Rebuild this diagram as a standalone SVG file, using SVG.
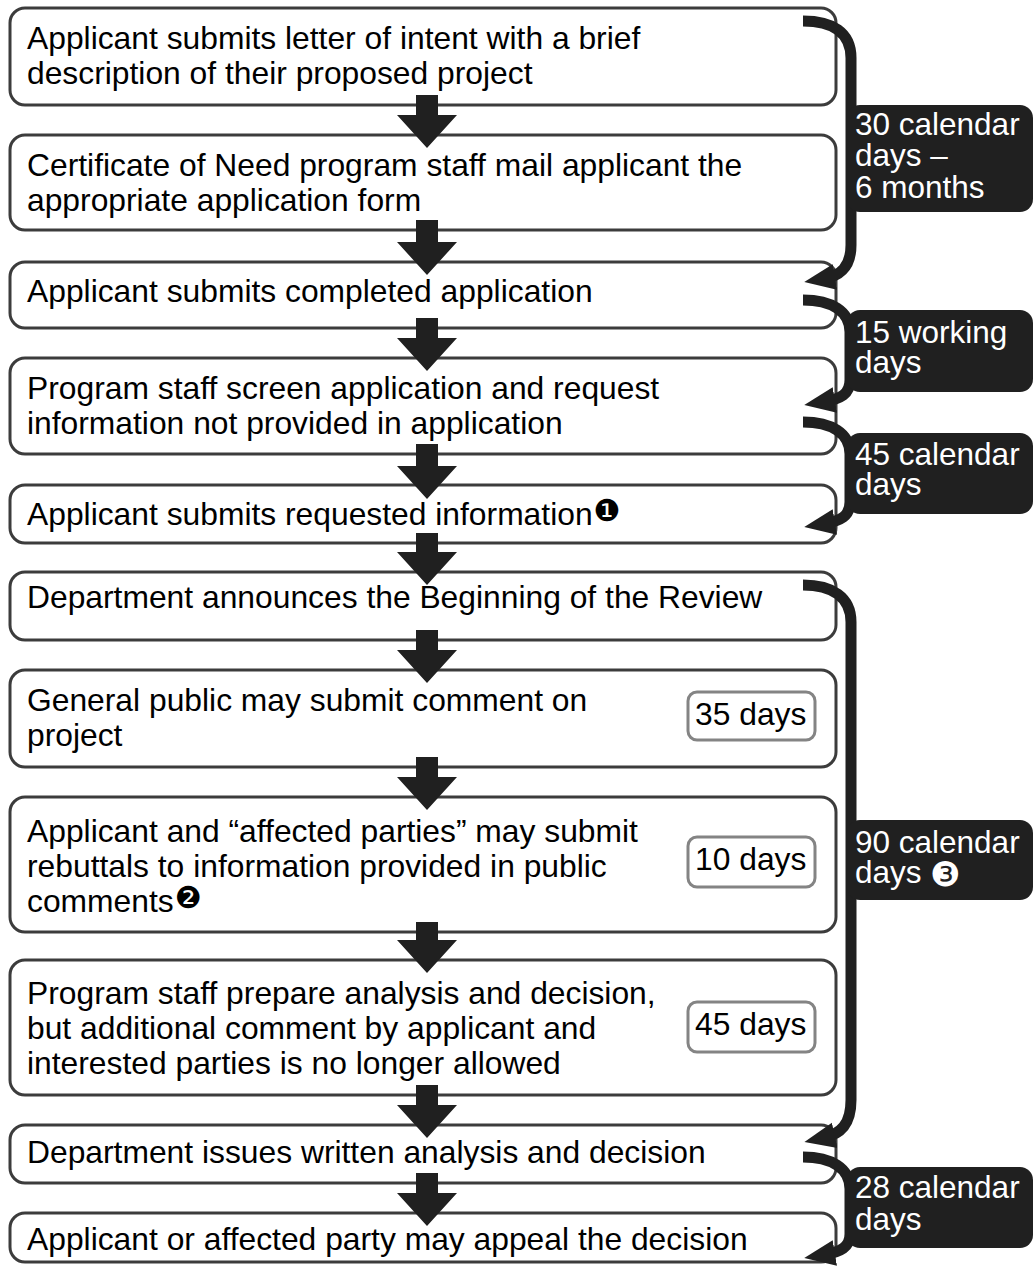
<svg xmlns="http://www.w3.org/2000/svg" width="1035" height="1268" viewBox="0 0 1035 1268">
<defs>
<style>
.box{fill:#fff;stroke:#3c3c3c;stroke-width:3}
.dbox{fill:#fff;stroke:#848484;stroke-width:3}
.badge{fill:#202020}
.t{font-family:"Liberation Sans",Arial,sans-serif;font-size:31.8px;fill:#000}
.bt{font-family:"Liberation Sans",Arial,sans-serif;font-size:31.5px;fill:#fff}
.fn{font-family:"DejaVu Sans",sans-serif;font-size:30px}
.arr{fill:#202020}
.br{fill:none;stroke:#202020;stroke-width:11}
</style>
<marker id="ah" markerUnits="userSpaceOnUse" markerWidth="34" markerHeight="30" refX="12" refY="14" orient="auto" viewBox="0 0 34 30">
<path d="M0,1 L31,14 L0,27 Z" fill="#202020"/>
</marker>
</defs>

<g id="n1"><rect class="box" x="10" y="8" width="826" height="97" rx="15"/>
<text class="t" x="27" y="49">Applicant submits letter of intent with a brief</text>
<text class="t" x="27" y="84">description of their proposed project</text></g>

<g id="n2"><rect class="box" x="10" y="135" width="826" height="95" rx="15"/>
<text class="t" x="27" y="176">Certificate of Need program staff mail applicant the</text>
<text class="t" x="27" y="211">appropriate application form</text></g>

<g id="n3"><rect class="box" x="10" y="262" width="826" height="66" rx="15"/>
<text class="t" x="27" y="302">Applicant submits completed application</text></g>

<g id="n4"><rect class="box" x="10" y="358" width="826" height="96" rx="15"/>
<text class="t" x="27" y="399">Program staff screen application and request</text>
<text class="t" x="27" y="434">information not provided in application</text></g>

<g id="n5"><rect class="box" x="10" y="485" width="826" height="58" rx="15"/>
<text class="t" x="27" y="525">Applicant submits requested information<tspan class="fn" dx="1" dy="-4">❶</tspan></text></g>

<g id="n6"><rect class="box" x="10" y="572" width="826" height="68" rx="15"/>
<text class="t" x="27" y="608">Department announces the Beginning of the Review</text></g>

<g id="n7"><rect class="box" x="10" y="670" width="826" height="97" rx="15"/>
<text class="t" x="27" y="711">General public may submit comment on</text>
<text class="t" x="27" y="746">project</text>
<rect class="dbox" x="688" y="692" width="127" height="48" rx="9"/>
<text class="t" x="695" y="725">35 days</text></g>

<g id="n8"><rect class="box" x="10" y="797" width="826" height="135" rx="15"/>
<text class="t" x="27" y="842">Applicant and “affected parties” may submit</text>
<text class="t" x="27" y="877">rebuttals to information provided in public</text>
<text class="t" x="27" y="912">comments<tspan class="fn" dx="1" dy="-4">❷</tspan></text>
<rect class="dbox" x="688" y="837" width="127" height="50" rx="9"/>
<text class="t" x="695" y="870">10 days</text></g>

<g id="n9"><rect class="box" x="10" y="960" width="826" height="135" rx="15"/>
<text class="t" x="27" y="1004">Program staff prepare analysis and decision,</text>
<text class="t" x="27" y="1039">but additional comment by applicant and</text>
<text class="t" x="27" y="1074">interested parties is no longer allowed</text>
<rect class="dbox" x="688" y="1002" width="127" height="50" rx="9"/>
<text class="t" x="695" y="1035">45 days</text></g>

<g id="n10"><rect class="box" x="10" y="1125" width="826" height="58" rx="15"/>
<text class="t" x="27" y="1163">Department issues written analysis and decision</text></g>

<g id="n11"><rect class="box" x="10" y="1213" width="826" height="49" rx="15"/>
<text class="t" x="27" y="1250">Applicant or affected party may appeal the decision</text></g>

<g id="connectors">
<path class="arr" d="M416,95 H438 V115 H457 L427,148 L397,115 H416 Z"/>
<path class="arr" d="M416,220 H438 V242 H457 L427,275 L397,242 H416 Z"/>
<path class="arr" d="M416,318 H438 V338 H457 L427,371 L397,338 H416 Z"/>
<path class="arr" d="M416,444 H438 V466 H457 L427,499 L397,466 H416 Z"/>
<path class="arr" d="M416,533 H438 V552 H457 L427,585 L397,552 H416 Z"/>
<path class="arr" d="M416,630 H438 V650 H457 L427,683 L397,650 H416 Z"/>
<path class="arr" d="M416,757 H438 V777 H457 L427,810 L397,777 H416 Z"/>
<path class="arr" d="M416,922 H438 V940 H457 L427,973 L397,940 H416 Z"/>
<path class="arr" d="M416,1085 H438 V1105 H457 L427,1138 L397,1105 H416 Z"/>
<path class="arr" d="M416,1173 H438 V1193 H457 L427,1226 L397,1193 H416 Z"/>

<path class="br" marker-end="url(#ah)" d="M803,21 C832,21 851,32 851,58 L851,245 C851,266 841,276 823,279"/>
<path class="br" marker-end="url(#ah)" d="M803,300 C831,300 850,311 850,332 L850,380 C850,394 841,399 823,402"/>
<path class="br" marker-end="url(#ah)" d="M803,422 C831,422 850,433 850,454 L850,502 C850,516 841,521 823,524"/>
<path class="br" marker-end="url(#ah)" d="M803,585 C832,585 851,597 851,622 L851,1100 C851,1124 841,1134 823,1138"/>
<path class="br" marker-end="url(#ah)" d="M803,1157 C831,1157 850,1168 850,1189 L850,1234 C850,1247 841,1252 823,1255"/>
</g>

<g id="b1"><rect class="badge" x="847" y="105" width="186" height="107" rx="13"/>
<text class="bt" x="855" y="135">30 calendar</text>
<text class="bt" x="855" y="166">days –</text>
<text class="bt" x="855" y="198">6 months</text></g>
<g id="b2"><rect class="badge" x="847" y="310" width="186" height="82" rx="13"/>
<text class="bt" x="855" y="343">15 working</text>
<text class="bt" x="855" y="373">days</text></g>
<g id="b3"><rect class="badge" x="847" y="433" width="186" height="81" rx="13"/>
<text class="bt" x="855" y="465">45 calendar</text>
<text class="bt" x="855" y="495">days</text></g>
<g id="b4"><rect class="badge" x="847" y="820" width="186" height="80" rx="13"/>
<text class="bt" x="855" y="853">90 calendar</text>
<text class="bt" x="855" y="883">days <tspan font-family="DejaVu Sans, sans-serif" font-size="34" dy="3">❸</tspan></text></g>
<g id="b5"><rect class="badge" x="847" y="1167" width="186" height="81" rx="13"/>
<text class="bt" x="855" y="1198">28 calendar</text>
<text class="bt" x="855" y="1230">days</text></g>
</svg>
